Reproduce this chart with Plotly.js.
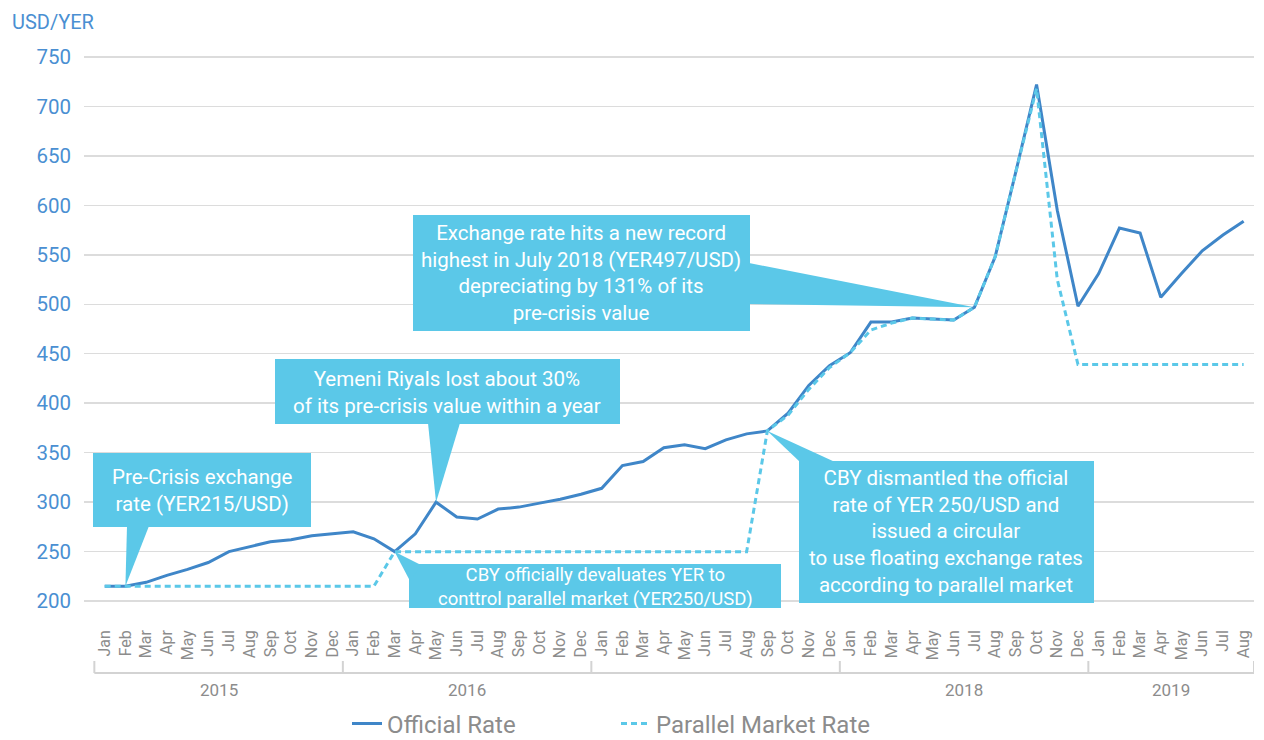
<!DOCTYPE html>
<html>
<head>
<meta charset="utf-8">
<script src="https://cdn.plot.ly/plotly-3.0.1.min.js"></script>
<style>html,body{margin:0;padding:0;background:#fff;}#chart{width:1264px;height:740px;}</style>
</head>
<body>
<div id="chart"></div>
<script>
// ---------- DATA ----------
const monthNames = ['Jan','Feb','Mar','Apr','May','Jun','Jul','Aug','Sep','Oct','Nov','Dec'];
const years = ['2015','2016','2017','2018','2019'];
const yearLabels = ['2015','2016','','2018','2019'];   // 2017 label is not shown in the source
const monthsPerYear = [12,12,12,12,8];

const official = [
  215,215,219,226,232,239,250,255,260,262,266,268,
  270,263,250,268,300,285,283,293,295,299,303,308,
  314,337,341,355,358,354,363,369,372,390,418,438,
  451,482,482,486,485,484,497,548,634,722,595,498,
  531,577,572,507,531,554,570,584
];
const parallel = [
  215,215,215,215,215,215,215,215,215,215,215,215,
  215,215,250,250,250,250,250,250,250,250,250,250,
  250,250,250,250,250,250,250,250,372,388,414,436,
  451,474,481,486,485,484,497,548,634,718,525,439,
  439,439,439,439,439,439,439,439
];

// ---------- LAYOUT GEOMETRY ----------
const W = 1264, H = 740;
const L = 84, PW = 1170, T = 47, PH = 564;
const xr = [-1, 55.5], yr = [190, 760];
const px2x = p => xr[0] + (p - L) / PW * (xr[1] - xr[0]);
const py2y = p => yr[1] - (p - T) / PH * (yr[1] - yr[0]);
const px2paper = p => (p - L) / PW;
const py2paper = p => (T + PH - p) / PH;

const idx = [];
const ticktext = [];
let k = 0;
monthsPerYear.forEach(n => { for (let m = 0; m < n; m++) { idx.push(k++); ticktext.push(monthNames[m]); } });

const boxColor = '#5bc8e8';
const officialColor = '#3f86c8';
const parallelColor = '#5bc8e8';
const axisBlue = '#4a8fd2';
const gray = '#8c8c8c';

const traces = [
  {x: idx, y: official, type: 'scatter', mode: 'lines', name: 'Official Rate',
   line: {color: officialColor, width: 3}},
  {x: idx, y: parallel, type: 'scatter', mode: 'lines', name: 'Parallel Market Rate',
   line: {color: parallelColor, width: 3, dash: '6px,4px'}}
];

// ---------- CALLOUTS ----------
const shapes = [];
const annotations = [];
function rectPx(x0, y0, x1, y1) {
  shapes.push({type: 'rect', xref: 'x', yref: 'y', x0: px2x(x0), x1: px2x(x1), y0: py2y(y1), y1: py2y(y0),
    fillcolor: boxColor, line: {width: 0}, layer: 'above'});
}
function triPx(tipIdx, tipVal, a, b) {
  const p = 'M' + tipIdx + ',' + tipVal + ' L' + px2x(a[0]) + ',' + py2y(a[1]) + ' L' + px2x(b[0]) + ',' + py2y(b[1]) + ' Z';
  shapes.push({type: 'path', xref: 'x', yref: 'y', path: p, fillcolor: boxColor, line: {width: 0}, layer: 'above'});
}
function textPx(cx, cy, txt, size) {
  annotations.push({xref: 'x', yref: 'y', x: px2x(cx), y: py2y(cy), text: txt, showarrow: false,
    xanchor: 'center', yanchor: 'middle', align: 'center',
    font: {family: 'Roboto, sans-serif', size: size || 20.5, color: '#ffffff'}});
}

// 1 Pre-crisis
rectPx(93, 453, 311, 527);
triPx(1, official[1], [127, 526], [149, 526]);
textPx(202, 490, 'Pre-Crisis exchange<br>rate (YER215/USD)');

// 2 Lost 30%
rectPx(275, 359, 620, 424);
triPx(16, official[16], [428, 423], [460, 423]);
textPx(447, 392, 'Yemeni Riyals lost about 30%<br>of its pre-crisis value within a year');

// 3 Devaluation
rectPx(409, 564, 781, 608);
triPx(14, official[14], [421, 565], [410, 581]);
textPx(595, 587, 'CBY officially devaluates YER to<br>conttrol parallel market (YER250/USD)', 18.5);

// 4 Record July 2018
rectPx(413, 215, 750, 331);
triPx(42, official[42], [749, 263], [749, 304]);
textPx(581, 273, 'Exchange rate hits a new record<br>highest in July 2018 (YER497/USD)<br>depreciating by 131% of its<br>pre-crisis value');

// 5 Dismantled
rectPx(799, 461, 1094, 603);
triPx(32, official[32], [800, 462], [835, 462]);
textPx(946, 531, 'CBY dismantled the official<br>rate of YER 250/USD and<br>issued a circular<br>to use floating exchange rates<br>according to parallel market');

// ---------- YEAR GROUP AXIS ----------
const lineY = py2paper(673), tickTop = py2paper(661), yearY = py2paper(690);
let start = 0;
shapes.push({type: 'line', xref: 'x', yref: 'paper', x0: -0.5, x1: idx.length - 0.5, y0: lineY, y1: lineY,
  line: {color: '#d3d3d3', width: 2}});
const bounds = [-0.5];
monthsPerYear.forEach((n, i) => {
  const end = start + n;
  bounds.push(end - 0.5);
  if (yearLabels[i]) {
    annotations.push({xref: 'x', yref: 'paper', x: (start + end - 1) / 2, y: yearY, text: yearLabels[i],
      showarrow: false, xanchor: 'center', yanchor: 'middle',
      font: {family: 'Roboto, sans-serif', size: 17, color: gray}});
  }
  start = end;
});
bounds.forEach(b => shapes.push({type: 'line', xref: 'x', yref: 'paper', x0: b, x1: b, y0: tickTop, y1: lineY,
  line: {color: '#d3d3d3', width: 2}}));

// y-axis unit label
annotations.push({xref: 'paper', yref: 'paper', x: px2paper(10), y: py2paper(22), text: 'USD/YER', showarrow: false,
  xanchor: 'left', yanchor: 'middle', font: {family: 'Roboto, sans-serif', size: 20, color: axisBlue}});

const layout = {
  width: W, height: H, autosize: false,
  margin: {l: L, r: W - L - PW, t: T, b: H - T - PH, pad: 0, autoexpand: false},
  paper_bgcolor: '#ffffff', plot_bgcolor: '#ffffff',
  font: {family: 'Roboto, sans-serif'},
  showlegend: true,
  legend: {orientation: 'h', x: px2paper(347), xanchor: 'left', y: py2paper(724), yanchor: 'middle',
    font: {size: 24, color: gray}, entrywidth: 224, entrywidthmode: 'pixels', tracegroupgap: 0},
  xaxis: {range: xr, tickmode: 'array', tickvals: idx, ticktext: ticktext, tickangle: -90,
    tickfont: {size: 16, color: gray}, showgrid: false, zeroline: false, showline: false,
    ticks: '', ticklabelstandoff: 15, automargin: false, fixedrange: true},
  yaxis: {range: yr, tickmode: 'array', tickvals: [200,250,300,350,400,450,500,550,600,650,700,750],
    tickfont: {size: 20.5, color: axisBlue}, showgrid: true, gridcolor: '#dcdcdc', gridwidth: 1.5,
    zeroline: false, showline: false, ticks: '', ticklabelstandoff: 12, automargin: false, fixedrange: true},
  shapes: shapes,
  annotations: annotations
};

Plotly.newPlot('chart', traces, layout, {displayModeBar: false, staticPlot: true});
</script>
</body>
</html>
